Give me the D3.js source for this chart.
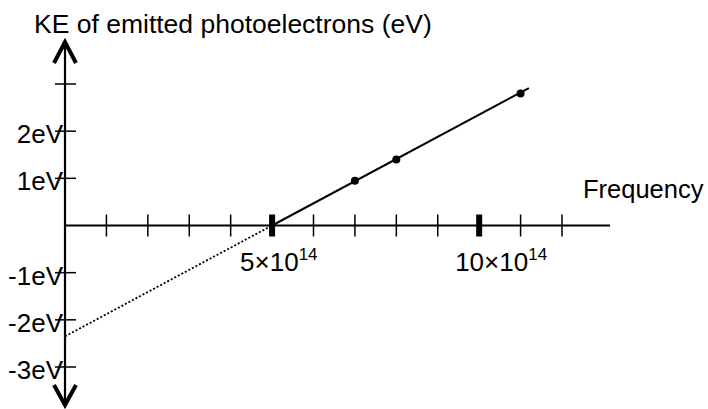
<!DOCTYPE html>
<html>
<head>
<meta charset="utf-8">
<script src="https://cdn.jsdelivr.net/npm/d3@7"></script>
<style>
  html, body { margin: 0; padding: 0; background: #fff; }
  svg { display: block; }
  text { font-family: "Liberation Sans", Arial, sans-serif; fill: #000; }
</style>
</head>
<body>
<svg id="chart" width="708" height="409"></svg>
<script>
// ---- data ----
const freqTicks = [1, 2, 3, 4, 5, 6, 7, 8, 9, 10, 11, 12];          // ×10^14 Hz
const freqMajor = [5, 10];
const freqMajorLabels = ["5×10", "10×10"];
const keTicks = [-3, -2, -1, 1, 2, 3];
const keTickLabels = ["-3eV", "-2eV", "-1eV", "1eV", "2eV", ""];
const pointFreq = [7, 8, 11];
const pointKE = [0.95, 1.4, 2.8];
const lineFreq = [5, 11.2];          // solid fit line
const extrapFreq = [0, 5];           // dotted extrapolation
const slope = 0.47;                  // eV per 10^14 Hz
const threshold = 5;                 // 10^14 Hz

const svg = d3.select("#chart");
const x = d3.scaleLinear().domain([0, 12]).range([65, 562]);
const y = d3.scaleLinear().domain([-3, 3]).range([367, 84]);
const ke = f => slope * (f - threshold);

// title
svg.append("text").attr("x", 34).attr("y", 33).attr("font-size", 26.5)
  .text("KE of emitted photoelectrons (eV)");
svg.append("text").attr("x", 583).attr("y", 198).attr("font-size", 25.5)
  .text("Frequency");

// y axis with arrows
const y0 = x(0);
svg.append("line").attr("x1", y0).attr("x2", y0).attr("y1", 42).attr("y2", 405)
  .attr("stroke", "#000").attr("stroke-width", 2.2);
svg.append("path").attr("d", `M${y0 - 11},${63} L${y0},${42} L${y0 + 11},${63}`)
  .attr("fill", "none").attr("stroke", "#000").attr("stroke-width", 4);
svg.append("path").attr("d", `M${y0 - 11},${385} L${y0},${405} L${y0 + 11},${385}`)
  .attr("fill", "none").attr("stroke", "#000").attr("stroke-width", 4);

// x axis
svg.append("line").attr("x1", y0).attr("x2", 610).attr("y1", y(0)).attr("y2", y(0))
  .attr("stroke", "#000").attr("stroke-width", 2);

// x ticks
svg.append("g").selectAll("line").data(freqTicks.filter(d => !freqMajor.includes(d)))
  .join("line")
  .attr("x1", d => x(d)).attr("x2", d => x(d))
  .attr("y1", y(0) - 11).attr("y2", y(0) + 11)
  .attr("stroke", "#000").attr("stroke-width", 1.5);
svg.append("g").selectAll("rect").data(freqMajor).join("rect")
  .attr("x", d => x(d) - 3).attr("width", 6)
  .attr("y", y(0) - 11).attr("height", 22).attr("fill", "#000");

// x major labels
const lbl = svg.append("g").selectAll("text").data(freqMajor).join("text")
  .attr("x", (d, i) => x(d) + (i === 0 ? -32 : -24))
  .attr("y", 271).attr("font-size", 26);
lbl.append("tspan").text((d, i) => freqMajorLabels[i]);
lbl.append("tspan").attr("font-size", 17).attr("dy", -11).text("14");

// y ticks
svg.append("g").selectAll("line").data(keTicks).join("line")
  .attr("x1", y0 - 10).attr("x2", y0 + 11)
  .attr("y1", d => y(d)).attr("y2", d => y(d))
  .attr("stroke", "#000").attr("stroke-width", 1.5);
svg.append("g").selectAll("text").data(keTicks).join("text")
  .attr("x", y0 - 2).attr("y", d => y(d) + 12)
  .attr("text-anchor", "end").attr("font-size", 26)
  .text((d, i) => keTickLabels[i]);

// lines
const lineGen = d3.line().x(d => x(d)).y(d => y(ke(d)));
svg.append("path").attr("d", lineGen(extrapFreq))
  .attr("fill", "none").attr("stroke", "#000").attr("stroke-width", 1.8)
  .attr("stroke-dasharray", "2,2");
svg.append("path").attr("d", lineGen(lineFreq))
  .attr("fill", "none").attr("stroke", "#000").attr("stroke-width", 2);

// points
svg.append("g").selectAll("circle").data(pointFreq).join("circle")
  .attr("cx", d => x(d)).attr("cy", (d, i) => y(pointKE[i]))
  .attr("r", 4).attr("fill", "#000");
</script>
</body>
</html>
